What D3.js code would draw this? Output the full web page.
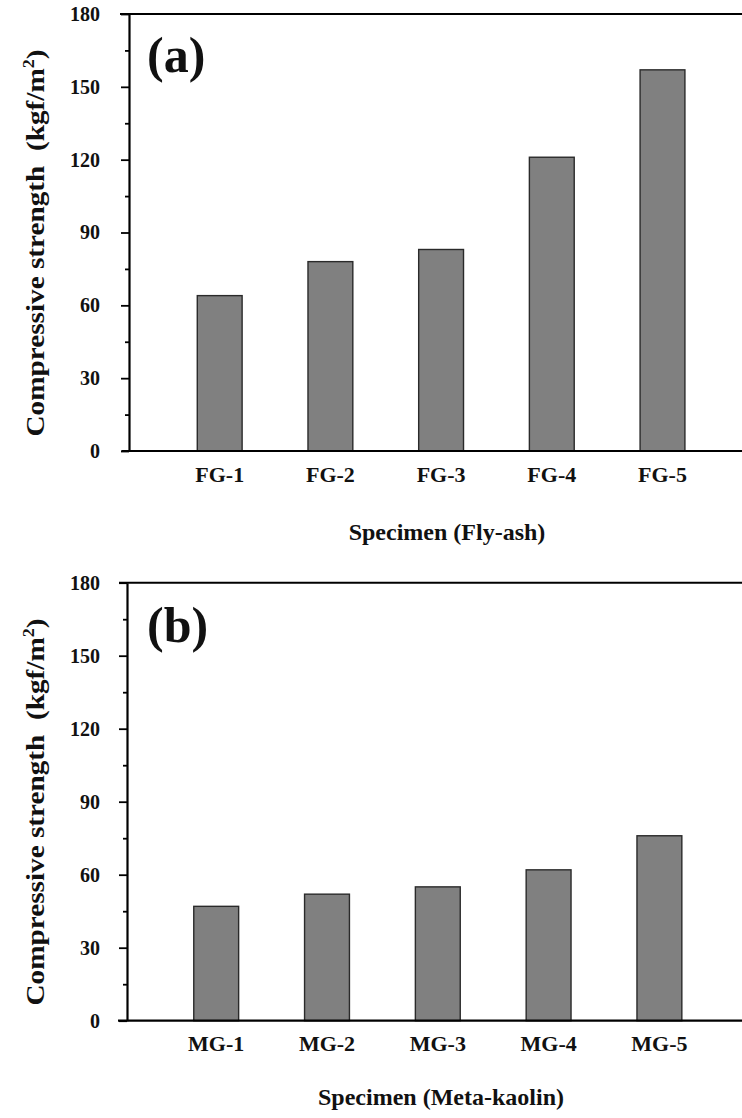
<!DOCTYPE html>
<html>
<head>
<meta charset="utf-8">
<script src="https://cdn.jsdelivr.net/npm/d3@7"></script>
<style>
  html, body { margin: 0; padding: 0; background: #fff; }
  svg { display: block; }
  text { font-family: "Liberation Serif", "Times New Roman", serif; font-weight: bold; fill: #111; }
</style>
</head>
<body>
<svg id="chart" width="742" height="1118"></svg>
<script>
// Compressive strength of geopolymer specimens
const flyAshSpecimens = ["FG-1", "FG-2", "FG-3", "FG-4", "FG-5"];
const flyAshStrength = [64, 78, 83, 121, 157];

const metaKaolinSpecimens = ["MG-1", "MG-2", "MG-3", "MG-4", "MG-5"];
const metaKaolinStrength = [47, 52, 55, 62, 76];

const majorTicks = [0, 30, 60, 90, 120, 150, 180];
const minorTicks = [15, 45, 75, 105, 135, 165];
const yDomain = [0, 180];

const svg = d3.select("#chart");
const W = 742;

const panels = [
  {
    tag: "(a)", categories: flyAshSpecimens, values: flyAshStrength,
    xTitle: "Specimen (Fly-ash)",
    top: 14, base: 451, axisX: 129, frameLeft: 120, baseLeft: 121.5,
    band: [164.35, 717.85], tagPos: [147, 72],
    xTitlePos: [447, 540], yTitleY: 243
  },
  {
    tag: "(b)", categories: metaKaolinSpecimens, values: metaKaolinStrength,
    xTitle: "Specimen (Meta-kaolin)",
    top: 582.7, base: 1020.7, axisX: 127, frameLeft: 119, baseLeft: 118,
    band: [160.8, 714.8], tagPos: [147, 642],
    xTitlePos: [441, 1105], yTitleY: 812
  }
];

panels.forEach(p => {
  const g = svg.append("g");

  const y = d3.scaleLinear().domain(yDomain).range([p.base, p.top]);
  const x = d3.scaleBand().domain(p.categories).range(p.band)
    .paddingInner(0.595).paddingOuter(0.2975);

  // bars
  g.selectAll("rect.bar")
    .data(p.values)
    .join("rect")
    .attr("class", "bar")
    .attr("x", (d, i) => x(p.categories[i]))
    .attr("y", d => y(d))
    .attr("width", x.bandwidth())
    .attr("height", d => y(0) - y(d))
    .attr("fill", "#808080")
    .attr("stroke", "#2a2a2a")
    .attr("stroke-width", 1.4);

  // top frame line
  g.append("line")
    .attr("x1", p.frameLeft).attr("x2", W)
    .attr("y1", y(180)).attr("y2", y(180))
    .attr("stroke", "#000").attr("stroke-width", 2);

  // baseline
  g.append("line")
    .attr("x1", p.baseLeft).attr("x2", W)
    .attr("y1", y(0)).attr("y2", y(0))
    .attr("stroke", "#000").attr("stroke-width", 2.2);

  // y axis, major ticks with labels
  const yAxis = g.append("g")
    .attr("transform", `translate(${p.axisX},0)`)
    .call(d3.axisLeft(y).tickValues(majorTicks).tickSize(8).tickSizeOuter(0)
      .tickPadding(p.axisX - 100 - 8).tickFormat(d3.format("d")));
  yAxis.select(".domain").attr("stroke", "#000").attr("stroke-width", 2.2);
  yAxis.selectAll(".tick line").attr("stroke", "#000").attr("stroke-width", 1.8);
  yAxis.selectAll(".tick text")
    .style("font-family", "'Liberation Serif', 'Times New Roman', serif")
    .style("font-weight", "bold").style("font-size", "20px").attr("fill", "#111");

  // y axis, minor ticks
  const yMinor = g.append("g")
    .attr("transform", `translate(${p.axisX},0)`)
    .call(d3.axisLeft(y).tickValues(minorTicks).tickSize(4).tickFormat(""));
  yMinor.select(".domain").remove();
  yMinor.selectAll(".tick line").attr("stroke", "#000").attr("stroke-width", 1.8);

  // x axis category labels
  const xAxis = g.append("g")
    .attr("transform", `translate(0,${y(0)})`)
    .call(d3.axisBottom(x).tickSize(0).tickPadding(15));
  xAxis.select(".domain").remove();
  xAxis.selectAll(".tick text")
    .style("font-family", "'Liberation Serif', 'Times New Roman', serif")
    .style("font-weight", "bold").style("font-size", "22px").attr("fill", "#111");

  // panel tag
  g.append("text")
    .attr("x", p.tagPos[0]).attr("y", p.tagPos[1])
    .style("font-size", "50px")
    .text(p.tag);

  // x axis title
  g.append("text")
    .attr("x", p.xTitlePos[0]).attr("y", p.xTitlePos[1])
    .attr("text-anchor", "middle")
    .style("font-size", "24px")
    .text(p.xTitle);

  // y axis title
  const yt = g.append("text")
    .attr("transform", `translate(44,${p.yTitleY}) rotate(-90)`)
    .attr("text-anchor", "middle")
    .attr("textLength", 387)
    .attr("lengthAdjust", "spacingAndGlyphs")
    .style("font-size", "26px");
  yt.append("tspan").text("Compressive strength\u00A0\u00A0(kgf/m");
  yt.append("tspan").attr("dy", -10).style("font-size", "16px").text("2");
  yt.append("tspan").attr("dy", 10).text(")");
});
</script>
</body>
</html>
